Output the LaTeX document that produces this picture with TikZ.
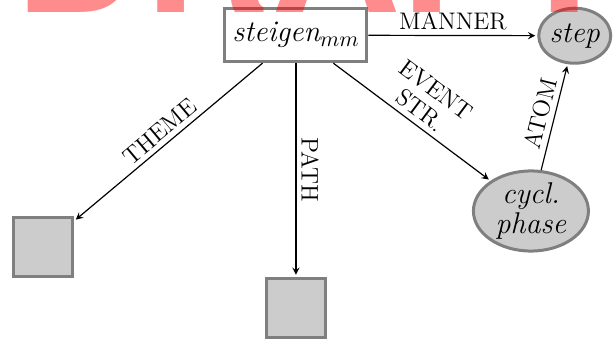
\documentclass[tikz,border=0pt]{standalone}
\usepackage{fontspec}
\newfontfamily\draftfont{TeX Gyre Heros}
\usepackage{xcolor}
\definecolor{avm-line}{HTML}{7F7F7F}
\definecolor{avm-fill}{HTML}{CCCCCC}
\definecolor{draft-mark}{HTML}{FF0000}
\usepackage{tikz}
\usetikzlibrary{shapes.geometric}

\tikzset{
  avmbox/.style={draw=avm-line, line width=1.5pt, fill=white, inner sep=0pt,
    minimum width=71pt, minimum height=26.5pt, font=\fontsize{15}{15}\selectfont\itshape},
  avmvalue/.style={ellipse, draw=avm-line, line width=1.5pt, fill=avm-fill, inner sep=0pt,
    align=center, font=\fontsize{15}{15}\selectfont\itshape},
  avmempty/.style={draw=avm-line, line width=1.5pt, fill=avm-fill, inner sep=0pt,
    minimum size=29.5pt},
  attr/.style={sloped, above, inner sep=2.5pt, font=\fontsize{12}{13}\selectfont},
}

\begin{document}
\begin{tikzpicture}[semithick, >=stealth]

    % Canvas
    \useasboundingbox (0, 0) rectangle (10.825, 6.028);

    % Head and values
    \node[avmbox] (steigen) at (5.20, 5.41) {steigen$_{mm}$};
    \node[avmvalue, minimum width=36pt, minimum height=27.5pt] (step) at (10.10, 5.40) {step};
    \node[avmvalue, minimum width=57.5pt, minimum height=37.5pt] (cycl) at (9.33, 2.32) {cycl.\\phase};
    \node[avmempty] (theme) at (0.76, 1.69) {};
    \node[avmempty] (path) at (5.20, 0.62) {};

    % Features
    \draw[->, shorten >=1pt] (steigen) -- node[attr] {MANNER} (step);
    \draw[->, shorten >=1pt] (steigen) -- node[attr] {THEME} (theme);
    \draw[->, shorten >=1pt] (steigen) -- node[attr] {PATH} (path);
    \draw[->, shorten >=1pt] (steigen) -- node[attr, align=center] {EVENT\\STR.} (cycl);
    \draw[->, shorten >=1pt] (cycl) -- node[attr] {ATOM} (step);

    % Watermark
    \node[anchor=base west, inner sep=0pt, text=draft-mark, text opacity=0.45,
      font=\draftfont\bfseries\fontsize{89}{89}\selectfont] (draft) at (0.25, 5.80) {DRAFT};

\end{tikzpicture}
\end{document}
